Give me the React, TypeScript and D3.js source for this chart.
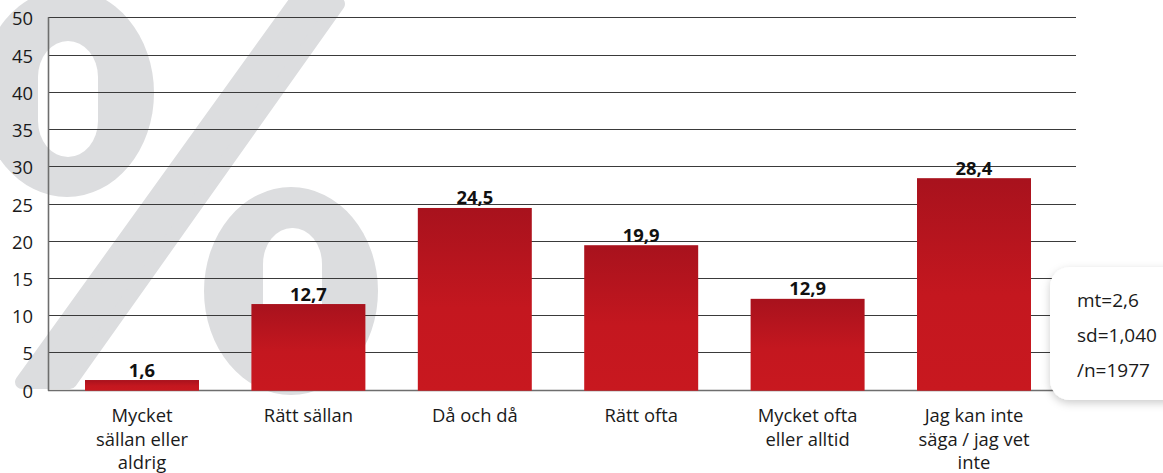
import React from "react";
import * as d3 from "d3";

const categories: string[][] = [
  ["Mycket", "sällan eller", "aldrig"],
  ["Rätt sällan"],
  ["Då och då"],
  ["Rätt ofta"],
  ["Mycket ofta", "eller alltid"],
  ["Jag kan inte", "säga / jag vet", "inte"],
];
const labelValues: number[] = [1.6, 12.7, 24.5, 19.9, 12.9, 28.4];
const barValues: number[] = [1.3, 11.5, 24.4, 19.4, 12.2, 28.4];
const yTicks: number[] = [0, 5, 10, 15, 20, 25, 30, 35, 40, 45, 50];
const stats: string[] = ["mt=2,6", "sd=1,040", "/n=1977"];

const W = 1163;
const H = 473;
const FONT = "'Open Sans', sans-serif";

export default function App() {
  const y = d3.scaleLinear().domain([0, 50]).range([389.7, 17.3]);
  const x = d3
    .scaleBand<number>()
    .domain(d3.range(categories.length))
    .range([58.8, 1057.2])
    .paddingInner(0.315)
    .paddingOuter(0.1575);
  const gridX0 = 48;
  const gridX1 = 1076;
  const wm = "#dcdddf";

  return (
    <svg
      width={W}
      height={H}
      style={{ position: "absolute", left: 0, top: 0, background: "#fff" }}
      fontFamily={FONT}
    >
      <defs>
        <linearGradient id="barGrad" x1="0" y1="0" x2="0" y2="1">
          <stop offset="0%" stopColor="#a8121d" />
          <stop offset="55%" stopColor="#c4171f" />
          <stop offset="100%" stopColor="#c8181f" />
        </linearGradient>
        <filter id="shadow" x="-20%" y="-20%" width="140%" height="150%">
          <feDropShadow dx="0" dy="3" stdDeviation="4" floodColor="#000" floodOpacity="0.2" />
        </filter>
      </defs>
      <rect x={0} y={0} width={W} height={H} fill="#fff" />

      {/* watermark % */}
      <g stroke="none">
        <ellipse cx={67} cy={93} rx={87} ry={104} fill={wm} />
        <ellipse cx={291} cy={291} rx={87} ry={104} fill={wm} />
        <path
          d="M 294 4 L 338 4 L 70 382 L 22 382 Z"
          fill={wm}
          stroke={wm}
          strokeWidth={14}
          strokeLinejoin="round"
        />
        <rect x={38} y={41} width={60} height={116} rx={30} ry={36} fill="#fff" />
        <rect x={263} y={228} width={59} height={130} rx={29} ry={36} fill="#fff" />
      </g>

      {/* gridlines */}
      {yTicks.map((t) => (
        <line
          key={t}
          x1={gridX0}
          x2={gridX1}
          y1={Math.round(y(t)) + 0.5}
          y2={Math.round(y(t)) + 0.5}
          stroke={t === 0 ? "#6e6e6e" : "#3a3a3a"}
          strokeWidth={t === 0 ? 1.6 : 1.1}
        />
      ))}
      <line x1={gridX0 + 0.5} x2={gridX0 + 0.5} y1={y(50)} y2={y(0) + 1} stroke="#6e6e6e" strokeWidth={1.6} />

      {/* y tick labels */}
      {yTicks.map((t) => (
        <text key={t} x={33} y={y(t) + 8} textAnchor="end" fontSize={18.4} fill="#1a1a1a">
          {t}
        </text>
      ))}

      {/* bars */}
      {barValues.map((v, i) => (
        <rect
          key={i}
          x={x(i)}
          y={y(v)}
          width={x.bandwidth()}
          height={y(0) - y(v) + 1}
          fill="url(#barGrad)"
        />
      ))}

      {/* value labels */}
      {labelValues.map((v, i) => (
        <text
          key={i}
          x={(x(i) as number) + x.bandwidth() / 2}
          y={y(barValues[i]) - 3.5}
          textAnchor="middle"
          fontSize={18.4}
          fontWeight={700}
          fill="#111"
        >
          {v.toFixed(1).replace(".", ",")}
        </text>
      ))}

      {/* category labels */}
      {categories.map((lines, i) => (
        <text
          key={i}
          x={(x(i) as number) + x.bandwidth() / 2}
          y={422}
          textAnchor="middle"
          fontSize={18.4}
          fill="#1a1a1a"
        >
          {lines.map((l, j) => (
            <tspan key={j} x={(x(i) as number) + x.bandwidth() / 2} dy={j === 0 ? 0 : 23.5}>
              {l}
            </tspan>
          ))}
        </text>
      ))}

      {/* stats box */}
      <rect x={1050} y={267} width={140} height={133} rx={20} ry={20} fill="#fff" filter="url(#shadow)" />
      {stats.map((s, i) => (
        <text key={i} x={1077} y={306.5 + i * 35} fontSize={19} fill="#1a1a1a">
          {s}
        </text>
      ))}
    </svg>
  );
}
